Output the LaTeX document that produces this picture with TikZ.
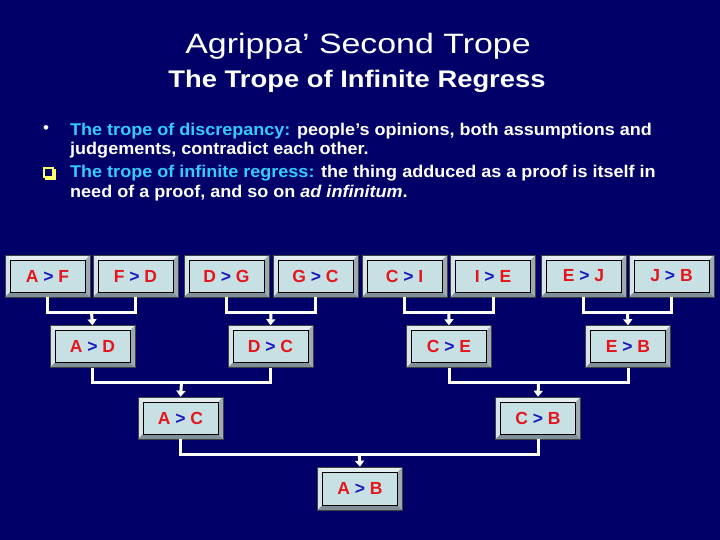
\documentclass[tikz,border=0pt]{standalone}
\usepackage{fontspec}
\setmainfont{Liberation Sans}
\usetikzlibrary{arrows.meta,calc,positioning}
\definecolor{navy1}{RGB}{0,0,104}
\definecolor{cyan1}{RGB}{51,204,255}
\definecolor{red1}{RGB}{228,22,30}
\definecolor{blue1}{RGB}{24,24,190}
\definecolor{tile1}{RGB}{198,224,228}
\definecolor{bevtop}{RGB}{228,238,240}
\definecolor{bevleft}{RGB}{214,228,232}
\definecolor{bevbot}{RGB}{128,144,154}
\definecolor{bevright}{RGB}{158,170,178}
\definecolor{yellow1}{RGB}{255,255,110}

\newcommand{\rel}[2]{\textcolor{red1}{#1} \textcolor{blue1}{>} \textcolor{red1}{#2}}

\tikzset{
  tile/.style={minimum width=85pt, minimum height=42pt, inner sep=0pt,
    fill=tile1, draw=black!75, line width=0.5pt,
    font=\fontsize{17.5}{17.5}\selectfont\bfseries,
    path picture={
      \path (path picture bounding box.north west) coordinate (pnw)
            (path picture bounding box.south east) coordinate (pse);
      \fill[bevtop] (pnw) -- (pnw -| pse) -- ([shift={(-5pt,-5pt)}]pnw -| pse) -- ([shift={(5pt,-5pt)}]pnw) -- cycle;
      \fill[bevleft] (pnw) -- (pse -| pnw) -- ([shift={(5pt,5pt)}]pse -| pnw) -- ([shift={(5pt,-5pt)}]pnw) -- cycle;
      \fill[bevbot] (pse -| pnw) -- (pse) -- ([shift={(-5pt,5pt)}]pse) -- ([shift={(5pt,5pt)}]pse -| pnw) -- cycle;
      \fill[bevright] (pnw -| pse) -- (pse) -- ([shift={(-5pt,5pt)}]pse) -- ([shift={(-5pt,-5pt)}]pnw -| pse) -- cycle;
      \draw[black, line width=0.6pt] ([shift={(5pt,-5pt)}]pnw) rectangle ([shift={(-5pt,5pt)}]pse);
    }},
  wire/.style={white, line width=3pt},
  arrow/.style={wire, -{Triangle[width=9pt,length=6pt]}},
  line/.style={anchor=base west, inner sep=0pt, white, xscale=1.06,
    font=\fontsize{17}{19}\selectfont\bfseries}
}

\begin{document}
\begin{tikzpicture}[x=1pt,y=-1pt]

\fill[navy1] (0,0) rectangle (720,540);
\useasboundingbox (0,0) rectangle (720,540);

% headings
\node[white, xscale=1.21, font=\fontsize{28}{28}\selectfont] (title) at (358,46) {Agrippa’ Second Trope};
\node[white, xscale=1.14, font=\fontsize{24}{24}\selectfont\bfseries] (subtitle) at (357,81) {The Trope of Infinite Regress};

% bullets
\node[white, font=\fontsize{17}{17}\selectfont] (dot) at (46,130) {•};
\draw[yellow1, line width=1.3pt] (44,168) rectangle (53,177);
\draw[yellow1, line width=2pt] (45,179) -- (55,179) -- (55,169);
\node[line] (l1) at (70,135.5) {\textcolor{cyan1}{The trope of discrepancy:} people’s opinions, both assumptions and};
\node[line] (l2) at (70,154.5) {judgements, contradict each other.};
\node[line] (l3) at (70,177.5) {\textcolor{cyan1}{The trope of infinite regress:} the thing adduced as a proof is itself in};
\node[line] (l4) at (70,197) {need of a proof, and so on \textit{ad infinitum}.};

% top row
\node[tile] (af) at (47.5,276) {\rel{A}{F}};
\node[tile] (fd) at (135.5,276) {\rel{F}{D}};
\node[tile] (dg) at (226.5,276) {\rel{D}{G}};
\node[tile] (gc) at (315.5,276) {\rel{G}{C}};
\node[tile] (ci) at (404.5,276) {\rel{C}{I}};
\node[tile] (ie) at (493,276) {\rel{I}{E}};
\node[tile] (ej) at (583.5,276) {\rel{E}{J}};
\node[tile] (jb) at (671.5,276) {\rel{J}{B}};

% second row
\node[tile] (ad) at (92.5,346.5) {\rel{A}{D}};
\node[tile] (dc) at (270.5,346.5) {\rel{D}{C}};
\node[tile] (ce) at (449,346.5) {\rel{C}{E}};
\node[tile] (eb) at (628,346.5) {\rel{E}{B}};

% third row
\node[tile] (ac) at (180.5,418) {\rel{A}{C}};
\node[tile] (cb) at (538,418) {\rel{C}{B}};

% conclusion
\node[tile, minimum height=43pt] (ab) at (360,488.5) {\rel{A}{B}};

% joins
\foreach \l/\r/\m/\c in {af/fd/m1/ad, dg/gc/m2/dc, ci/ie/m3/ce, ej/jb/m4/eb,
                          ad/dc/m5/ac, ce/eb/m6/cb, ac/cb/m7/ab} {
  \draw[wire] (\l.south) -- ++(0,15) -| (\r.south);
  \coordinate (\m) at ($(\l.south)!.5!(\r.south)+(0,15)$);
  \draw[arrow] (\m) -- (\c.north);
}

\end{tikzpicture}
\end{document}
